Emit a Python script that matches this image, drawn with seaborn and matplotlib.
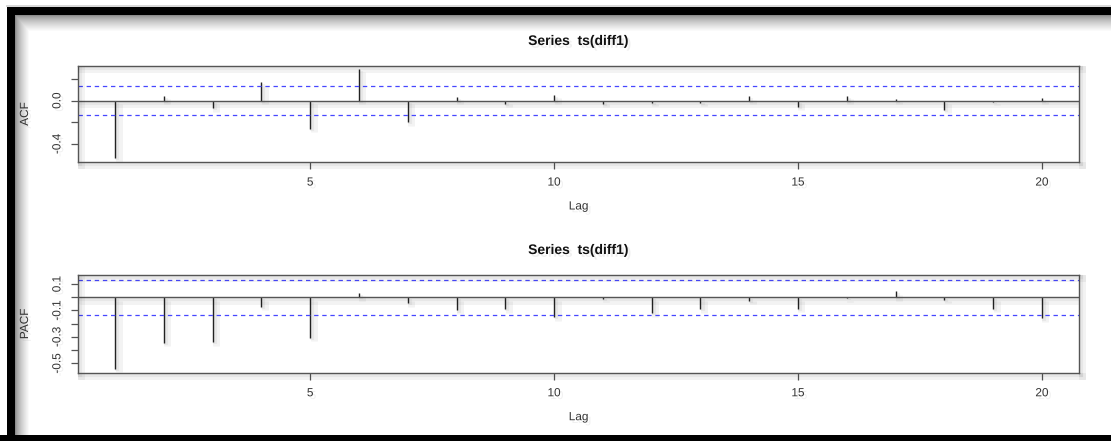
import numpy as np
import pandas as pd
import seaborn as sns
import matplotlib.pyplot as plt
import matplotlib.patheffects as pe
from matplotlib.transforms import ScaledTranslation

# values (lags 1..20)
lags = list(range(1, 21))
acf_vals = [-0.533, 0.046, -0.07, 0.17, -0.262, 0.293, -0.2, 0.037, -0.03, 0.053,
            -0.03, -0.018, -0.018, 0.04, -0.055, 0.043, 0.015, -0.086, -0.01, 0.022]
pacf_vals = [-0.542, -0.343, -0.34, -0.072, -0.305, 0.032, -0.046, -0.10, -0.09, -0.152,
             -0.01, -0.12, -0.09, -0.026, -0.087, -0.006, 0.045, -0.02, -0.087, -0.16]
conf_band = 0.134
x_ticks = [5, 10, 15, 20]
title_text = "Series  ts(diff1)"

df = pd.DataFrame({"Lag": lags, "ACF": acf_vals, "PACF": pacf_vals})

sns.set_theme(style="white")
plt.rcParams['font.family'] = ['Liberation Sans', 'DejaVu Sans']

fig = plt.figure(figsize=(11.11, 4.41), dpi=100)
W, H = 1111, 441

# background: black frame with soft inner shadow
bg = fig.add_axes([0, 0, 1, 1], zorder=-5)
yy, xx = np.mgrid[0:H, 0:W]
dx = np.clip((xx - 15) / 14.0, 0, 1)
dy = np.clip((yy - 15) / 16.0, 0, 1)
img = 0.55 + 0.45 * np.minimum(dx, dy) ** 0.7
img[(xx < 7) | (yy < 7)] = 1.0
img[((xx >= 7) & (xx < 15) & (yy >= 7)) | ((yy >= 7) & (yy < 15) & (xx >= 7))] = 0.0
img[yy >= 435] = 0.0
img[(yy < 7) & (yy >= 5) & (xx > 5)] = 0.85
bg.imshow(img, cmap="gray", vmin=0, vmax=1, aspect="auto", interpolation="bilinear")
bg.set_axis_off()

# soft drop shadows like the reference screenshot
shadow = [pe.SimpleLineShadow(offset=(2.5, -2.5), alpha=0.05, shadow_color="k", linewidth=5),
          pe.SimpleLineShadow(offset=(1.5, -1.5), alpha=0.05, shadow_color="k", linewidth=3),
          pe.Normal()]
txt_shadow = [pe.withSimplePatchShadow(offset=(2, -2), shadow_rgbFace="0.6", alpha=0.15)]

spine_col = "#555555"
blue = "#4747ff"

panels = [
    ("ACF", [0.0702, 0.6327, 0.901, 0.2177], (-0.567, 0.32),
     [-0.4, -0.2, 0.0, 0.2], {0.0: "0.0", -0.4: "-0.4"}),
    ("PACF", [0.0702, 0.1549, 0.901, 0.2215], (-0.57, 0.168),
     [-0.5, -0.4, -0.3, -0.2, -0.1, 0.0, 0.1], {0.1: "0.1", -0.1: "-0.1", -0.3: "-0.3", -0.5: "-0.5"}),
]

for col, rect, ylim, yticks, ylabels in panels:
    ax = fig.add_axes(rect)
    ax.set_facecolor((1, 1, 1, 0))
    ax.vlines(df["Lag"], 0, df[col], color="#222222", lw=1.0, path_effects=shadow)
    ax.axhline(0, color=spine_col, lw=1.0, path_effects=shadow)
    for s in (conf_band, -conf_band):
        ax.axhline(s, color=blue, lw=0.9, linestyle=(0, (3.5, 3)))
    ax.set_xlim(0.24, 20.76)
    ax.set_ylim(*ylim)
    ax.set_xticks(x_ticks)
    ax.set_xticklabels([str(t) for t in x_ticks])
    ax.set_yticks(yticks)
    ax.set_yticklabels([ylabels.get(round(t, 1), "") for t in yticks], rotation=90, va="center")
    ax.tick_params(axis="both", length=5, width=0.9, color=spine_col, labelsize=8.5,
                   labelcolor="#333333", pad=5.5, direction="out", bottom=True, left=True)
    for sp in ax.spines.values():
        sp.set_color(spine_col)
        sp.set_linewidth(1.0)
        sp.set_path_effects(shadow)
    for lbl in ax.get_xticklabels() + ax.get_yticklabels():
        lbl.set_path_effects(txt_shadow)
    ax.text(0.5, 1.0, title_text, transform=ax.transAxes + ScaledTranslation(0, 0.25, fig.dpi_scale_trans),
            ha="center", va="center", fontsize=10, fontweight="bold", color="#111111",
            path_effects=txt_shadow)
    ax.text(0.5, 0.0, "Lag", transform=ax.transAxes + ScaledTranslation(0, -0.445, fig.dpi_scale_trans),
            ha="center", va="center", fontsize=8.5, color="#333333", path_effects=txt_shadow)
    ax.text(0.0, 0.5, col, transform=ax.transAxes + ScaledTranslation(-0.53, 0, fig.dpi_scale_trans),
            ha="center", va="center", rotation=90, fontsize=8.5, color="#333333",
            path_effects=txt_shadow)

fig.savefig("out.png", dpi=100)
